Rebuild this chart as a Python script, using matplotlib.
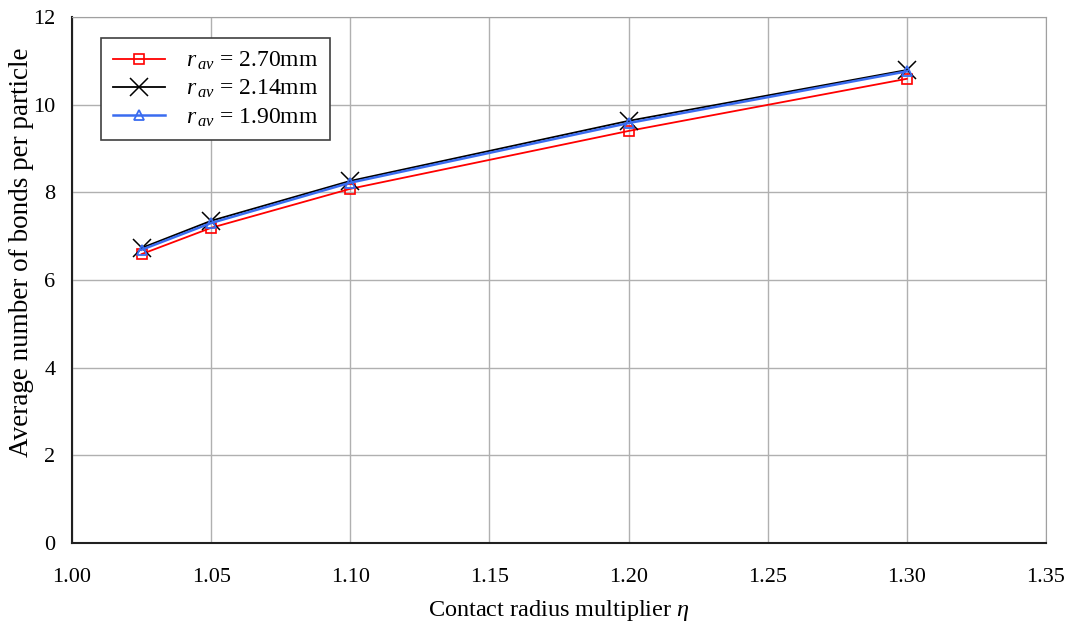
import matplotlib.pyplot as plt

eta = [1.025, 1.05, 1.10, 1.20, 1.30]
bonds_270 = [6.59, 7.19, 8.08, 9.40, 10.59]
bonds_214 = [6.73, 7.35, 8.26, 9.63, 10.79]
bonds_190 = [6.69, 7.30, 8.22, 9.58, 10.76]
labels = [r'$r_{\,av}$ = 2.70mm', r'$r_{\,av}$ = 2.14mm', r'$r_{\,av}$ = 1.90mm']

plt.rcParams['font.family'] = ['Liberation Serif', 'DejaVu Serif']
plt.rcParams['mathtext.fontset'] = 'custom'
plt.rcParams['mathtext.it'] = 'Liberation Serif:italic'
plt.rcParams['mathtext.rm'] = 'Liberation Serif'

fig = plt.figure(figsize=(10.70, 6.24), dpi=100)
ax = fig.add_axes([0.0673, 0.1298, 0.9103, 0.843])

ax.plot(eta, bonds_270, color='red', lw=1.3, marker='s', ms=7, mfc='none', mec='red', mew=1.2, label=labels[0])
ax.plot(eta, bonds_214, color='black', lw=1.3, marker='x', ms=13, mew=1.1, label=labels[1])
ax.plot(eta, bonds_190, color='#3a6cf0', lw=1.8, marker='^', ms=7, mfc='none', mec='#3a6cf0', mew=1.3, label=labels[2])

ax.set_xlim(1.0, 1.35)
ax.set_ylim(0, 12)
ax.set_xticks([1.00, 1.05, 1.10, 1.15, 1.20, 1.25, 1.30, 1.35])
ax.set_xticklabels(['%.2f' % v for v in ax.get_xticks()])
ax.set_yticks(range(0, 13, 2))
ax.tick_params(length=0, labelsize=16)
ax.tick_params(axis='x', pad=18)
ax.tick_params(axis='y', pad=12)
ax.grid(True, color='#b0b0b0', lw=1.0)
for s in ['top', 'right']:
    ax.spines[s].set_color('#a0a0a0')
for s in ['left', 'bottom']:
    ax.spines[s].set_color('#202020')
    ax.spines[s].set_linewidth(1.5)

ax.set_xlabel(r'Contact radius multiplier $\eta$', fontsize=17.5, labelpad=8)
ax.set_ylabel('Average number of bonds per particle', fontsize=19.5)
ax.yaxis.set_label_coords(-0.039, 0.553)

leg = ax.legend(loc='upper left', bbox_to_anchor=(0.030, 0.96), fontsize=17, fancybox=False,
                framealpha=1, edgecolor='#404040', handlelength=2.2, borderpad=0.5,
                labelspacing=0.25, borderaxespad=0, handletextpad=0.9)
leg.get_frame().set_linewidth(1.2)

fig.savefig('out.png', dpi=100)
